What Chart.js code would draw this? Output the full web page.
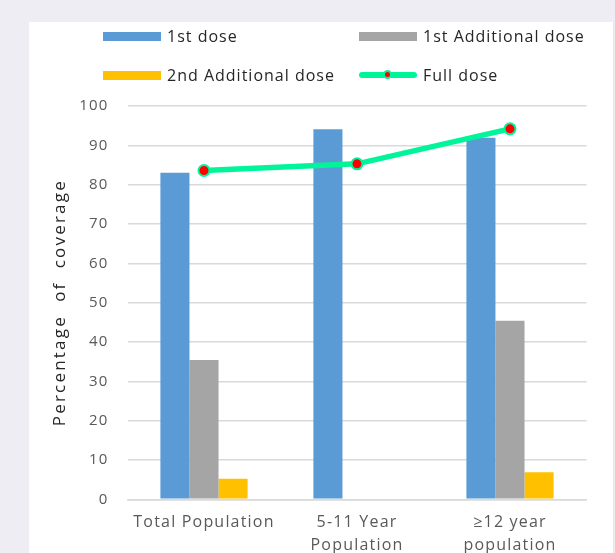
<!DOCTYPE html>
<html>
<head>
<meta charset="utf-8">
<script src="https://cdn.jsdelivr.net/npm/chart.js@4/dist/chart.umd.min.js"></script>
<style>
  html, body { margin: 0; padding: 0; }
  body { width: 615px; height: 553px; background: #eeedf4; position: relative; overflow: hidden; font-family: "Open Sans", sans-serif; }
  #panel { position: absolute; left: 29px; top: 22px; width: 584px; height: 540px; background: #ffffff; border-right: 1px solid #e4e4ea; }
  #c { position: absolute; left: 0; top: 0; }
  .lg { position: absolute; display: flex; align-items: center; font-size: 16px; color: #262626; letter-spacing: 1px; white-space: nowrap; }
  .sw { width: 58px; height: 9px; margin-right: 6px; }
  .lsw { width: 58px; height: 6px; margin-right: 6px; border-radius: 3px; position: relative; }
  .dot { position: absolute; left: 24px; top: -1px; width: 5px; height: 5px; border-radius: 50%; background: #ff0000; border: 2px solid #00f59a; box-sizing: content-box; transform: translate(0,-1px); }
</style>
</head>
<body>
<div id="panel"></div>
<canvas id="c" width="615" height="553"></canvas>
<div id="legend"></div>
<script>
const categories = [["Total Population"], ["5-11 Year", "Population"], ["\u226512 year", "population"]];
const seriesNames = ["1st dose", "1st Additional dose", "2nd Additional dose", "Full dose"];
const firstDose = [83.0, 94.1, 91.9];
const firstAdditional = [35.4, null, 45.4];
const secondAdditional = [5.2, null, 6.9];
const fullDose = [83.6, 85.3, 94.2];
const yTicks = [0, 10, 20, 30, 40, 50, 60, 70, 80, 90, 100];

const colors = ["#5b9bd5", "#a5a5a5", "#ffc000", "#00f59a"];

const spacingPlugin = {
  id: 'spacing',
  beforeLayout(chart) { chart.ctx.letterSpacing = '1.2px'; },
  beforeDraw(chart) { chart.ctx.letterSpacing = '1.2px'; }
};

const chart = new Chart(document.getElementById('c'), {
  type: 'bar',
  data: {
    labels: categories,
    datasets: [
      { type: 'line', label: seriesNames[3], data: fullDose, borderColor: colors[3], backgroundColor: '#ff0000',
        borderWidth: 5.5, pointRadius: 5.5, pointBorderWidth: 2, pointBorderColor: colors[3], pointBackgroundColor: '#ff0000',
        tension: 0, order: 0 },
      { label: seriesNames[0], data: firstDose, backgroundColor: colors[0], order: 1 },
      { label: seriesNames[1], data: firstAdditional, backgroundColor: colors[1], order: 1 },
      { label: seriesNames[2], data: secondAdditional, backgroundColor: colors[2], order: 1 }
    ]
  },
  options: {
    responsive: false,
    animation: false,
    devicePixelRatio: 1,
    layout: { padding: { left: 0, right: 28.5, top: 106, bottom: 0 } },
    datasets: { bar: { categoryPercentage: 0.57, barPercentage: 1.0 } },
    plugins: { legend: { display: false }, tooltip: { enabled: false } },
    scales: {
      x: {
        grid: { display: false, drawTicks: false },
        border: { display: true, color: '#d9d9d9', width: 1.5 },
        ticks: { color: '#595959', font: { family: 'Open Sans', size: 16, lineHeight: 1.44 }, padding: 12, maxRotation: 0, autoSkip: false },
        afterFit(scale) { scale.height = 53.7; }
      },
      y: {
        min: 0, max: 100,
        afterBuildTicks(scale) { scale.ticks = yTicks.map(v => ({ value: v })); },
        grid: { color: '#d9d9d9', lineWidth: 1.5, drawTicks: false },
        border: { display: false },
        ticks: { color: '#595959', font: { family: 'Open Sans', size: 15 }, padding: 19 },
        title: { display: true, text: 'Percentage  of  coverage', color: '#262626', font: { family: 'Open Sans', size: 17 }, padding: { top: 50, bottom: 0 } },
        afterFit(scale) { scale.width = 127.5; }
      }
    }
  },
  plugins: [spacingPlugin, {
    id: 'titleLS',
    beforeDraw(chart) {
      const y = chart.scales.y;
      if (!y._lsPatched) {
        const orig = y.drawTitle.bind(y);
        y.drawTitle = function () {
          const ctx = this.ctx;
          const prev = ctx.letterSpacing;
          ctx.letterSpacing = '2.2px';
          orig();
          ctx.letterSpacing = prev;
        };
        y._lsPatched = true;
      }
    }
  }]
});

// HTML legend built from dataset labels/colors
const legendPos = [
  { idx: 1, left: 103, top: 36 },
  { idx: 2, left: 359, top: 36 },
  { idx: 3, left: 103, top: 75 },
  { idx: 0, left: 359, top: 75 }
];
const lg = document.getElementById('legend');
legendPos.forEach(p => {
  const ds = chart.data.datasets[p.idx];
  const item = document.createElement('div');
  item.className = 'lg';
  item.style.left = p.left + 'px';
  item.style.top = (p.top - 11) + 'px';
  item.style.height = '22px';
  let sw;
  if (ds.type === 'line') {
    sw = document.createElement('div');
    sw.className = 'lsw';
    sw.style.background = ds.borderColor;
    const d = document.createElement('div');
    d.className = 'dot';
    sw.appendChild(d);
  } else {
    sw = document.createElement('div');
    sw.className = 'sw';
    sw.style.background = ds.backgroundColor;
  }
  item.appendChild(sw);
  const t = document.createElement('span');
  t.textContent = ds.label;
  item.appendChild(t);
  lg.appendChild(item);
});
</script>
</body>
</html>
